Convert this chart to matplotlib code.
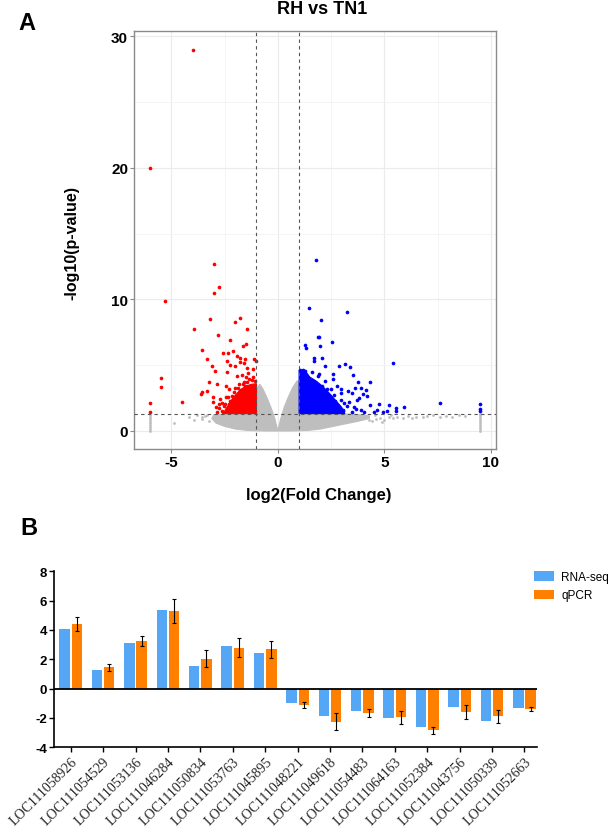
import matplotlib.pyplot as plt

plt.rcParams['axes.unicode_minus'] = False

# =============================================================================
# Data - panel A, volcano plot RH vs TN1
# =============================================================================

# down-regulated genes (red), single points
down_x = [-4.0, -6.0, -2.98, -2.76, -2.98, -5.28, -3.18, -1.77, -1.99, -3.93,
          -1.46, -2.81, -2.23, -1.51, -1.62, -3.57, -2.56, -2.32, -2.10, -1.93,
          -1.77, -1.54, -3.34, -2.37, -2.25, -2.01, -1.77, -1.57, -3.07, -1.10,
          -1.04, -1.46, -1.15, -1.38, -2.93, -2.40, -1.90, -1.70, -1.49, -3.25,
          -2.85, -2.45, -2.28, -3.57, -3.34, -3.62, -3.06, -3.03, -4.48, -5.50,
          -5.50, -5.98, -5.98, -2.64, -2.51, -2.40, -2.59, -2.25, -2.17, -2.06,
          -1.86, -1.65, -1.43, -1.23, -1.07, -1.27, -1.54, -1.77, -1.96, -2.74,
          -2.84, -2.70, -2.62, -2.48, -2.35, -2.30, -2.20, -2.12, -2.02, -1.18,
          -1.33, -1.60, -1.83, -2.45, -2.90, -2.78]
down_y = [28.95, 20.0, 12.73, 10.91, 10.46, 9.87, 8.51, 8.56, 8.25, 7.75,
          7.75, 7.29, 6.91, 6.61, 6.48, 6.18, 5.92, 5.92, 6.08, 5.67,
          5.54, 5.47, 5.47, 5.32, 5.01, 4.96, 5.22, 5.16, 4.96, 5.47,
          5.32, 4.81, 4.71, 4.41, 4.56, 4.51, 4.15, 4.25, 4.10, 3.70,
          3.54, 3.44, 3.19, 2.94, 3.06, 2.78, 2.58, 2.23, 2.18, 4.05,
          3.34, 2.13, 1.42, 2.13, 1.92, 1.67, 1.47, 2.30, 2.68, 2.94,
          3.24, 3.57, 3.75, 3.90, 3.82, 3.44, 3.39, 3.06, 2.68, 1.72,
          1.47, 2.45, 1.55, 2.02, 2.55, 2.02, 1.62, 2.45, 3.30, 4.10,
          3.95, 3.72, 3.55, 2.62, 1.80, 2.05]
# outline of the dense red cloud
down_core_x = [-1.0, -1.0, -1.25, -1.5, -1.75, -1.95, -2.15, -2.3, -2.45, -2.55]
down_core_y = [1.32, 3.6, 3.55, 3.4, 3.15, 2.8, 2.4, 2.0, 1.65, 1.32]

# up-regulated genes (blue), single points
up_x = [1.79, 1.48, 3.27, 2.04, 1.89, 1.93, 2.54, 1.98, 1.26, 1.34,
        1.68, 1.68, 2.09, 5.41, 2.23, 2.89, 3.17, 3.41, 3.55, 1.94,
        2.58, 2.61, 3.75, 4.33, 3.64, 3.92, 4.16, 4.02, 4.20, 2.80,
        2.97, 3.30, 3.47, 3.80, 4.35, 4.75, 5.22, 5.57, 5.94, 7.60,
        9.48, 9.48, 9.48, 4.64, 4.52, 4.95, 5.11, 5.53, 3.91, 4.05,
        3.66, 3.48, 3.23, 3.12, 2.98, 1.04, 1.17, 1.28, 1.07, 1.35,
        1.51, 1.74, 2.06, 2.29, 2.45, 2.69, 2.84, 3.08, 2.76, 2.37,
        2.50, 2.65, 2.95, 3.35, 3.60, 2.20, 1.90, 1.60, 3.05, 3.70]
up_y = [12.99, 9.37, 9.01, 8.43, 7.16, 7.11, 6.78, 6.46, 6.56, 6.30,
        5.57, 5.32, 5.57, 5.19, 4.96, 4.91, 5.11, 4.86, 4.28, 4.35,
        4.30, 3.95, 3.70, 3.72, 3.29, 3.24, 3.14, 2.78, 2.68, 3.39,
        3.19, 3.04, 2.89, 2.51, 1.95, 2.08, 1.97, 1.77, 1.80, 2.13,
        2.08, 1.67, 1.52, 1.57, 1.42, 1.47, 1.49, 1.54, 1.57, 1.42,
        1.67, 1.47, 1.92, 2.13, 2.38, 4.66, 4.66, 4.56, 4.20, 4.08,
        3.82, 3.57, 3.44, 3.19, 2.68, 2.30, 1.92, 1.54, 1.47, 1.72,
        3.20, 2.75, 2.90, 2.20, 1.85, 3.80, 4.15, 4.45, 1.60, 2.35]
# outline of the dense blue cloud
up_core_x = [1.0, 1.0, 1.3, 1.5, 1.8, 2.1, 2.4, 2.7, 3.0, 3.15]
up_core_y = [1.32, 4.6, 4.55, 4.1, 3.8, 3.4, 2.9, 2.35, 1.8, 1.32]

# not significant genes (grey), single points: tails and the two clipped bars
ns_x = [4.4, 4.6, 4.8, 5.0, 5.2, 5.4, 5.6, 5.9, 6.1, 6.3, 6.5, 6.8, 7.0,
        7.3, 7.6, 7.9, 8.2, 8.5, 8.8, 4.3, 4.55, 4.9, 5.3,
        -4.86, -4.15, -3.81, -3.57, -3.42, -3.21, -3.3, -3.55, -3.95,
        -6.0, -6.0, -6.0, -6.0, -6.0, -6.0, -6.0, -6.0, -6.0,
        9.48, 9.48, 9.48, 9.48, 9.48, 9.48, 9.48, 9.48, 9.48, 9.48]
ns_y = [0.75, 0.9, 1.0, 0.85, 1.05, 0.95, 1.1, 1.0, 1.15, 0.95, 1.1, 1.05, 1.15,
        1.2, 1.1, 1.15, 1.1, 1.2, 1.15, 0.85, 1.2, 0.7, 1.2,
        0.61, 1.04, 1.22, 0.91, 1.16, 0.78, 1.25, 1.05, 0.85,
        0.0, 0.15, 0.3, 0.45, 0.6, 0.75, 0.9, 1.05, 1.18,
        0.0, 0.15, 0.3, 0.45, 0.6, 0.75, 0.9, 1.05, 1.18, 1.29]
# outline of the dense grey cloud
ns_core_x = [-3.0, -1.0, -1.0, -0.85, -0.7, -0.5, -0.3, -0.15, -0.05, 0.0,
             0.05, 0.15, 0.3, 0.5, 0.7, 0.9, 1.0, 1.0, 3.0, 3.8, 4.3,
             4.3, 3.8, 3.2, 2.6, 2.0, 1.4, 0.6, -0.6, -1.4, -2.0, -2.5, -2.9, -3.1]
ns_core_y = [1.25, 1.3, 3.2, 3.55, 3.2, 2.5, 1.7, 1.0, 0.35, 0.05,
             0.35, 1.0, 1.8, 2.6, 3.3, 3.8, 3.8, 1.3, 1.3, 1.25, 1.15,
             0.95, 0.75, 0.55, 0.35, 0.15, 0.04, 0.0, 0.0, 0.04, 0.15, 0.35, 0.6, 0.95]

fc_cut = 1.0
p_cut = 1.301  # -log10(0.05)

# =============================================================================
# Data - panel B, RNA-seq vs qPCR
# =============================================================================

genes = ['LOC111058926', 'LOC111054529', 'LOC111053136', 'LOC111046284',
         'LOC111050834', 'LOC111053763', 'LOC111045895', 'LOC111048221',
         'LOC111049618', 'LOC111054483', 'LOC111064163', 'LOC111052384',
         'LOC111043756', 'LOC111050339', 'LOC111052663']
rnaseq = [4.05, 1.25, 3.08, 5.38, 1.55, 2.90, 2.42, -0.98,
          -1.86, -1.56, -2.00, -2.61, -1.25, -2.18, -1.32]
qpcr = [4.40, 1.45, 3.22, 5.30, 2.05, 2.80, 2.68, -1.14,
        -2.25, -1.66, -1.95, -2.85, -1.60, -1.90, -1.38]
qpcr_err = [0.45, 0.22, 0.35, 0.84, 0.55, 0.65, 0.58, 0.20,
            0.60, 0.25, 0.45, 0.25, 0.50, 0.45, 0.15]

# =============================================================================
# Figure
# =============================================================================

sans = 'Liberation Sans'
serif = 'Liberation Serif'

fig = plt.figure(figsize=(6.16, 8.28), dpi=100)

# =============================================================================
# Panel A
# =============================================================================

ax = fig.add_axes([0.2182, 0.4565, 0.5869, 0.5045])
ax.set_xlim(-6.73, 10.24)
ax.set_ylim(-1.37, 30.38)

# grid (ggplot look)
ax.set_xticks([-5, 0, 5, 10])
ax.set_yticks([0, 10, 20, 30])
ax.set_xticks([-2.5, 2.5, 7.5], minor=True)
ax.set_yticks([5, 15, 25], minor=True)
ax.grid(True, which='major', color='#ebebeb', linewidth=0.8)
ax.grid(True, which='minor', color='#f3f3f3', linewidth=0.6)
ax.set_axisbelow(True)

# points
grey = '#bebebe'
ax.fill(ns_core_x, ns_core_y, color=grey, linewidth=0.8, edgecolor=grey, zorder=2)
ax.scatter(ns_x, ns_y, s=4, color=grey, linewidths=0, zorder=2)
ax.fill(down_core_x, down_core_y, color='red', linewidth=0.8, edgecolor='red', zorder=3)
ax.scatter(down_x, down_y, s=7, color='red', linewidths=0, zorder=3)
ax.fill(up_core_x, up_core_y, color='blue', linewidth=0.8, edgecolor='blue', zorder=3)
ax.scatter(up_x, up_y, s=7, color='blue', linewidths=0, zorder=3)

# thresholds
ax.axvline(-fc_cut, color='#555555', linestyle=(0, (3, 3)), linewidth=0.8, zorder=4)
ax.axvline(fc_cut, color='#555555', linestyle=(0, (3, 3)), linewidth=0.8, zorder=4)
ax.axhline(p_cut, color='#555555', linestyle=(0, (3, 3)), linewidth=0.8, zorder=4)

# box and ticks
for s in ax.spines.values():
    s.set_color('#8a8a8a')
    s.set_linewidth(1.0)
ax.tick_params(which='major', direction='out', length=3, width=0.8, color='#8a8a8a',
               labelsize=11, pad=1.5)
ax.tick_params(which='minor', length=0)
for lab in ax.get_xticklabels() + ax.get_yticklabels():
    lab.set_fontfamily(sans)
    lab.set_fontweight('bold')

fig.text(322 / 616, 1 - 10 / 828, 'RH vs TN1', ha='center', va='center',
         fontsize=13, fontweight='bold', family=sans)
fig.text(319 / 616, 1 - 496 / 828, 'log2(Fold Change)', ha='center', va='center',
         fontsize=12, fontweight='bold', family=sans)
fig.text(72 / 616, 1 - 243 / 828, '-log10(p-value)', ha='center', va='center',
         rotation=90, fontsize=11.5, fontweight='bold', family=sans)
fig.text(27 / 616, 1 - 24 / 828, 'A', ha='center', va='center',
         fontsize=17, fontweight='bold', family=sans)

# =============================================================================
# Panel B
# =============================================================================

ax2 = fig.add_axes([0.0881, 0.0963, 0.7844, 0.2126])
pos = list(range(len(genes)))
w = 0.32
ax2.bar([p - 0.19 for p in pos], rnaseq, width=w, color='#55a6f5', label='RNA-seq', zorder=2)
ax2.bar([p + 0.19 for p in pos], qpcr, width=w, color='#ff8000', label='qPCR', zorder=2)
ax2.errorbar([p + 0.19 for p in pos], qpcr, yerr=qpcr_err, fmt='none', ecolor='black',
             elinewidth=0.8, capsize=1.2, capthick=0.8, zorder=3)
ax2.axhline(0, color='black', linewidth=1.3, zorder=4)

ax2.set_xlim(-0.506, 14.4)
ax2.set_ylim(-4, 8)
ax2.set_yticks([-4, -2, 0, 2, 4, 6, 8])
ax2.set_xticks(pos)
ax2.set_xticklabels(genes, rotation=45, ha='right', va='top', rotation_mode='anchor',
                    fontsize=10, family=serif, color='#222222')
for lab in ax2.get_yticklabels():
    lab.set_fontfamily(sans)
    lab.set_fontweight('bold')
ax2.tick_params(axis='y', direction='out', length=3.5, width=1.0, labelsize=9.5, pad=1.5)
ax2.tick_params(axis='x', direction='out', length=3.5, width=1.0, pad=2)
ax2.spines['top'].set_visible(False)
ax2.spines['right'].set_visible(False)
ax2.spines['left'].set_linewidth(1.2)
ax2.spines['bottom'].set_linewidth(1.2)

lgd = ax2.legend(loc='upper left', bbox_to_anchor=(534 / 616, 1 - 572 / 828),
                 bbox_transform=fig.transFigure, frameon=False,
                 prop={'family': sans, 'size': 8.5}, handlelength=1.7,
                 handleheight=0.85, handletextpad=0.6, labelspacing=0.55,
                 borderpad=0, borderaxespad=0)

fig.text(28.5 / 616, 1 - 529 / 828, 'B', ha='center', va='center',
         fontsize=17, fontweight='bold', family=sans)

fig.savefig('out.png', dpi=100)
